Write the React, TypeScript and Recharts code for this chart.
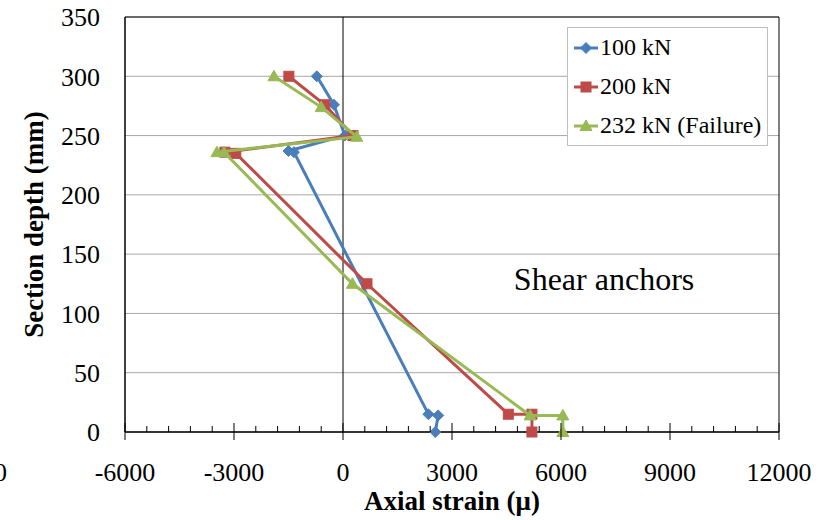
import React from "react";
import {
  CartesianGrid,
  Label,
  Legend,
  ReferenceArea,
  ReferenceDot,
  ReferenceLine,
  Scatter,
  ScatterChart,
  XAxis,
  YAxis,
} from "recharts";

const FONT = "'Liberation Serif', 'Times New Roman', serif";

// depth through the section (mm) and measured axial strain (micro-strain)
const depth100 = [300, 276, 250, 237, 236, 15, 14, 0];
const strain100 = [-720, -250, 50, -1500, -1350, 2350, 2620, 2540];

const depth200 = [300, 276, 250, 236, 235, 125, 15, 15, 0];
const strain200 = [-1490, -500, 275, -3250, -2950, 660, 4550, 5200, 5200];

const depth232 = [300, 274, 249, 236, 236, 125, 14, 14, 0];
const strain232 = [-1900, -600, 380, -3470, -3275, 260, 5150, 6050, 6050];

const loadNames = ["100 kN", "200 kN", "232 kN (Failure)"];
const loadColors = ["#4a7ebb", "#be4b48", "#98b954"];

const depthTicks = [0, 50, 100, 150, 200, 250, 300, 350];
const strainMajorTicks = [-6000, -3000, 0, 3000, 6000, 9000, 12000];
const MINOR_STEP = 600;

const strainTicks = strainMajorTicks.flatMap((v, i) =>
  i === strainMajorTicks.length - 1 ? [v] : [0, 1, 2, 3, 4].map((k) => v + k * MINOR_STEP)
);

const zip = (strain: number[], depth: number[]) =>
  strain.map((s, i) => ({ strain: s, depth: depth[i] }));

const data100 = zip(strain100, depth100);
const data200 = zip(strain200, depth200);
const data232 = zip(strain232, depth232);

type Pt = { cx?: number; cy?: number; color: string };

const Diamond = ({ cx = 0, cy = 0, color }: Pt) => (
  <polygon
    points={`${cx},${cy - 5.5} ${cx + 5.5},${cy} ${cx},${cy + 5.5} ${cx - 5.5},${cy}`}
    fill={color}
    stroke={color}
  />
);

const Square = ({ cx = 0, cy = 0, color }: Pt) => (
  <rect x={cx - 5} y={cy - 5} width={10} height={10} fill={color} stroke={color} />
);

const Triangle = ({ cx = 0, cy = 0, color }: Pt) => (
  <polygon
    points={`${cx},${cy - 6} ${cx + 6},${cy + 4.5} ${cx - 6},${cy + 4.5}`}
    fill={color}
    stroke={color}
  />
);

const markers = [Diamond, Square, Triangle];

// major ticks cross the axis and carry a label, minor ones sit inside the plot
const StrainTick = (props: any) => {
  const { x, y, payload } = props;
  const major = payload.value % 3000 === 0;
  return (
    <g>
      <line
        x1={x}
        x2={x}
        y1={major ? y - 9 : y - 6}
        y2={major ? y + 8 : y}
        stroke="#000"
      />
      {major && (
        <text x={x} y={y + 49} textAnchor="middle" fontSize={26} fontFamily={FONT} fill="#000">
          {payload.value}
        </text>
      )}
    </g>
  );
};

const LegendBox = () => (
  <div
    style={{
      width: 201,
      height: 119,
      boxSizing: "border-box",
      border: "1px solid #bfbfbf",
      background: "#fff",
      fontFamily: FONT,
      fontSize: 24,
      color: "#000",
    }}
  >
    {loadNames.map((name, i) => {
      const Marker = markers[i];
      return (
        <div key={name} style={{ height: 39, display: "flex", alignItems: "center" }}>
          <svg width={32} height={20} style={{ flex: "none" }}>
            <line x1={6} x2={30} y1={10} y2={10} stroke={loadColors[i]} strokeWidth={3} />
            <Marker cx={18} cy={10} color={loadColors[i]} />
          </svg>
          <span style={{ whiteSpace: "nowrap" }}>{name}</span>
        </div>
      );
    })}
  </div>
);

export default function App() {
  const series = [data100, data200, data232];
  return (
    <div style={{ position: "absolute", left: 0, top: 0, background: "#fff" }}>
      <ScatterChart
        width={833}
        height={520}
        margin={{ top: 17, right: 54, bottom: 0, left: 0 }}
        style={{ fontFamily: FONT }}
      >
        <CartesianGrid vertical={false} stroke="#a8a8a8" />
        <XAxis
          type="number"
          dataKey="strain"
          domain={[-6000, 12000]}
          ticks={strainTicks}
          interval={0}
          height={88}
          tickSize={0}
          tickMargin={0}
          tickLine={false}
          axisLine={{ stroke: "#000" }}
          tick={<StrainTick />}
        >
          <Label
            content={({ viewBox }: any) => (
              <text
                x={viewBox.x + viewBox.width / 2}
                y={viewBox.y + 78}
                textAnchor="middle"
                fontSize={27}
                fontWeight="bold"
                fontFamily={FONT}
                fill="#000"
              >
                Axial strain (μ)
              </text>
            )}
          />
          <Label
            content={({ viewBox }: any) => (
              <text x={viewBox.x - 131} y={viewBox.y + 49} fontSize={26} fontFamily={FONT} fill="#000">
                0
              </text>
            )}
          />
        </XAxis>
        <YAxis
          type="number"
          dataKey="depth"
          domain={[0, 350]}
          ticks={depthTicks}
          interval={0}
          width={125}
          tickSize={0}
          tickMargin={25}
          tickLine={false}
          axisLine={{ stroke: "#000" }}
          tick={{ fontSize: 26, fill: "#000", fontFamily: FONT }}
        >
          <Label
            content={({ viewBox }: any) => {
              const cx = 34;
              const cy = viewBox.y + viewBox.height / 2;
              return (
                <text
                  x={cx}
                  y={cy}
                  transform={`rotate(-90, ${cx}, ${cy})`}
                  textAnchor="middle"
                  dominantBaseline="central"
                  fontSize={27}
                  fontWeight="bold"
                  fontFamily={FONT}
                  fill="#000"
                >
                  Section depth (mm)
                </text>
              );
            }}
          />
        </YAxis>
        <ReferenceArea
          x1={-6000}
          x2={12000}
          y1={0}
          y2={350}
          fill="none"
          stroke="#000"
          strokeWidth={1}
          fillOpacity={0}
          ifOverflow="visible"
        />
        <ReferenceLine x={0} stroke="#000" strokeWidth={1} />
        <ReferenceDot
          x={7185}
          y={129}
          r={0}
          fill="none"
          stroke="none"
          label={{
            value: "Shear anchors",
            position: "center",
            fontSize: 32,
            fill: "#000",
            fontFamily: FONT,
          }}
        />
        {series.map((d, i) => {
          const Marker = markers[i];
          return (
            <Scatter
              key={loadNames[i]}
              name={loadNames[i]}
              data={d}
              fill={loadColors[i]}
              line={{ stroke: loadColors[i], strokeWidth: 3 }}
              lineType="joint"
              isAnimationActive={false}
              shape={(p: any) => <Marker cx={p.cx} cy={p.cy} color={loadColors[i]} />}
            />
          );
        })}
        <Legend
          layout="vertical"
          align="center"
          verticalAlign="middle"
          wrapperStyle={{ left: 567, top: 27, width: 201, height: 119 }}
          content={() => <LegendBox />}
        />
      </ScatterChart>
    </div>
  );
}
